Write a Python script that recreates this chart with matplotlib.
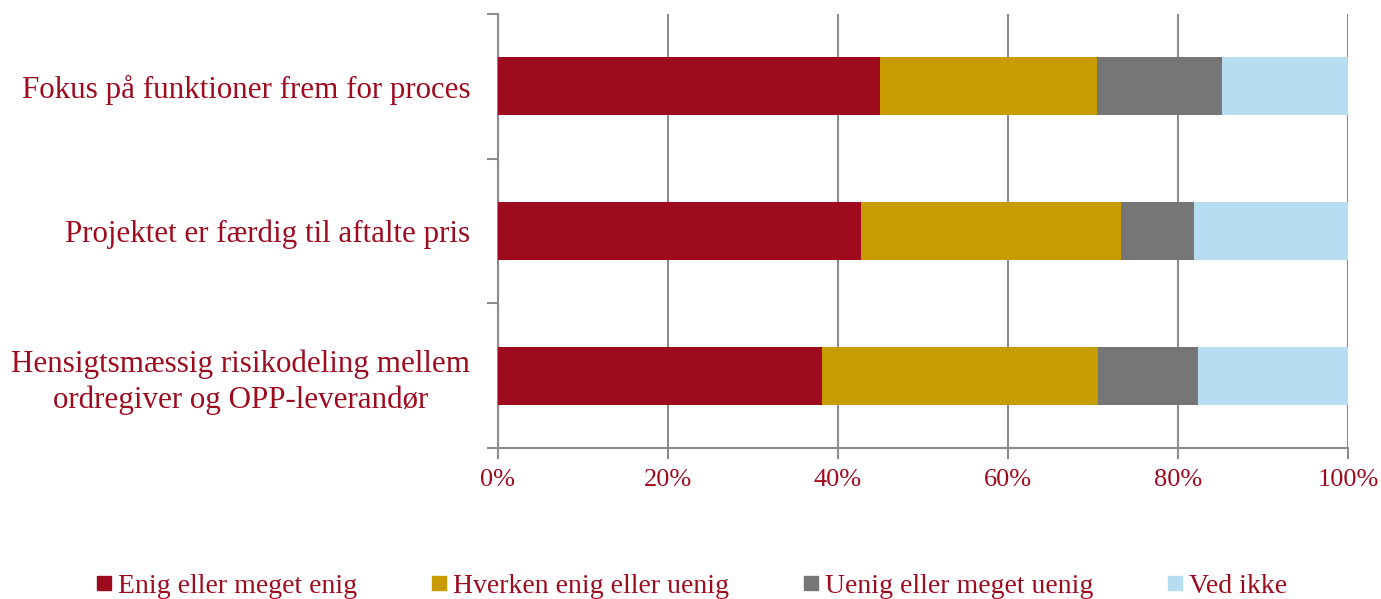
import matplotlib.pyplot as plt
import numpy as np

kategorier = ['Fokus på funktioner frem for proces',
              'Projektet er færdig til aftalte pris',
              'Hensigtsmæssig risikodeling mellem\nordregiver og OPP-leverandør']
serier = ['Enig eller meget enig', 'Hverken enig eller uenig',
          'Uenig eller meget uenig', 'Ved ikke']
enig = [44.9, 42.7, 38.1]
hverken = [25.6, 30.6, 32.5]
uenig = [14.7, 8.6, 11.8]
vedikke = [14.8, 18.1, 17.6]
farver = ['#9E0B1F', '#C89B00', '#767676', '#B7DDF2']
tekstfarve = '#9E0B1F'

plt.rcParams['font.family'] = ['Liberation Serif', 'DejaVu Serif']

fig = plt.figure(figsize=(13.81, 5.99), dpi=100)
ax = fig.add_axes([0.3606, 0.2521, 0.6155, 0.7245])

y = np.arange(len(kategorier))
venstre = np.zeros(len(kategorier))
for vals, navn, farve in zip([enig, hverken, uenig, vedikke], serier, farver):
    ax.barh(y, vals, left=venstre, height=0.4, color=farve, label=navn, zorder=3)
    venstre = venstre + np.array(vals)

ax.set_xlim(0, 100)
ax.set_ylim(2.5, -0.5)
ax.set_xticks(np.arange(0, 101, 20))
ax.set_xticklabels([f'{v}%' for v in range(0, 101, 20)])
ax.xaxis.grid(True, color='#8C8C8C', linewidth=1.5, zorder=0)

ax.set_yticks(y)
ax.set_yticklabels(kategorier, multialignment='center', linespacing=1.3)
ax.set_yticks([-0.5, 0.5, 1.5, 2.5], minor=True)
ax.tick_params(axis='y', which='major', length=0, pad=20)
ax.tick_params(axis='y', which='minor', length=8, width=1.5, color='#8C8C8C')
ax.tick_params(axis='x', length=8, width=1.5, color='#8C8C8C', pad=7)

for lbl in ax.get_yticklabels() + ax.get_xticklabels():
    lbl.set_color(tekstfarve)
for lbl in ax.get_yticklabels():
    lbl.set_fontsize(22.3)
for lbl in ax.get_xticklabels():
    lbl.set_fontsize(19)

for s in ['top', 'right']:
    ax.spines[s].set_visible(False)
for s in ['left', 'bottom']:
    ax.spines[s].set_color('#8C8C8C')
    ax.spines[s].set_linewidth(1.5)

handles = [plt.Line2D([], [], marker='s', linestyle='', markersize=10,
                      markerfacecolor=f, markeredgecolor=f) for f in farver]
leg = fig.legend(handles, serier, loc='center', bbox_to_anchor=(0.5, 0.022),
                 ncol=4, frameon=False, fontsize=20, handletextpad=0.15,
                 columnspacing=2.6, handlelength=0.7)
for t in leg.get_texts():
    t.set_color(tekstfarve)

fig.savefig('out.png', dpi=100)
